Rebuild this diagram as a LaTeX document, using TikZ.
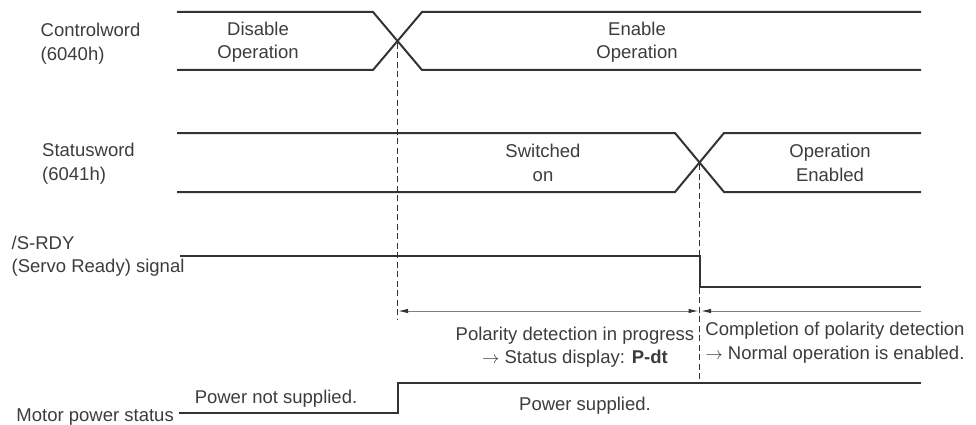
\documentclass[tikz,border=0pt]{standalone}
\usepackage{fontspec}
\setmainfont{Liberation Sans}
\usetikzlibrary{arrows.meta}
\definecolor{sig}{HTML}{333333}
\definecolor{txt}{HTML}{3C3C3C}
\definecolor{arr}{HTML}{808080}
\begin{document}
\begin{tikzpicture}[x=1pt,y=-1pt,
  sigline/.style={line width=2pt, draw=sig, line join=miter},
  guide/.style={line width=0.9pt, draw=sig, dash pattern=on 6pt off 3.5pt},
  span/.style={line width=1pt, draw=arr},
  lbl/.style={font=\fontsize{18.5}{23.5}\selectfont, text=txt, inner sep=0pt, align=center},
  lbll/.style={lbl, align=left, anchor=west}]
\useasboundingbox (0,0) rectangle (976,425);
% ---- Controlword waveform
\coordinate (c0t) at (177,12);  \coordinate (c1t) at (373,12);
\coordinate (c2t) at (422,12);  \coordinate (c3t) at (921,12);
\coordinate (c0b) at (177,70);  \coordinate (c1b) at (373,70);
\coordinate (c2b) at (422,70);  \coordinate (c3b) at (921,70);
\draw[sigline] (c0t) -- (c1t) -- (c2b) -- (c3b);
\draw[sigline] (c0b) -- (c1b) -- (c2t) -- (c3t);
% ---- Statusword waveform
\coordinate (s0t) at (177,133); \coordinate (s1t) at (675,133);
\coordinate (s2t) at (724,133); \coordinate (s3t) at (921,133);
\coordinate (s0b) at (177,192); \coordinate (s1b) at (675,192);
\coordinate (s2b) at (724,192); \coordinate (s3b) at (921,192);
\draw[sigline] (s0t) -- (s1t) -- (s2b) -- (s3b);
\draw[sigline] (s0b) -- (s1b) -- (s2t) -- (s3t);
% ---- /S-RDY
\coordinate (r0) at (180,256); \coordinate (r1) at (699.5,256);
\coordinate (r2) at (699.5,287); \coordinate (r3) at (921,287);
\draw[sigline] (r0) -- (r1) -- (r2) -- (r3);
% ---- Motor power
\coordinate (m0) at (179,413); \coordinate (m1) at (397.5,413);
\coordinate (m2) at (397.5,383); \coordinate (m3) at (921,383);
\draw[sigline] (m0) -- (m1) -- (m2) -- (m3);
% ---- dashed guides
\coordinate (g1a) at (397.5,43); \coordinate (g1b) at (397.5,320);
\coordinate (g2a) at (699.5,164); \coordinate (g2b) at (699.5,383);
\draw[guide] (g1a) -- (g1b);
\draw[guide] (g2a) -- (g2b);
% ---- spans
\coordinate (a0) at (398,311); \coordinate (a1) at (698.5,311);
\coordinate (a2) at (701,311); \coordinate (a3) at (921,311);
\draw[span, {Latex[length=10pt,width=4.5pt,color=sig]}-{Latex[length=10pt,width=4.5pt,color=sig]}] (a0) -- (a1);
\draw[span, {Latex[length=10pt,width=4.5pt,color=sig]}-] (a2) -- (a3);
% ---- labels
\node[lbll] (cw) at (40.5,43.6) {\strut Controlword\\\strut (6040h)};
\node[lbll] (sw) at (42,163.8) {\strut Statusword\\\strut (6041h)};
\node[lbll] (srdy) at (11.5,256.2) {\strut /S-RDY\\\strut (Servo Ready) signal};
\node[lbl] (dis) at (258,42.3) {\strut Disable\\\strut Operation};
\node[lbl] (ena) at (637,42.3) {\strut Enable\\\strut Operation};
\node[lbl] (swon) at (543,164.8) {\strut Switched\\\strut on};
\node[lbl] (opena) at (830,164.8) {\strut Operation\\\strut Enabled};
\node[lbl] (pol) at (575,347.3) {\strut Polarity detection in progress\\\strut $\rightarrow$ Status display: \textbf{P-dt}};
\node[lbl] (comp) at (835,342.8) {\strut Completion of polarity detection\\\strut $\rightarrow$ Normal operation is enabled.};
\node[lbl, anchor=base] (pns) at (276,403) {Power not supplied.};
\node[lbl, anchor=base] (ps) at (585,410) {Power supplied.};
\node[lbl, anchor=base east] (mps) at (174,421) {Motor power status};
\end{tikzpicture}
\end{document}
